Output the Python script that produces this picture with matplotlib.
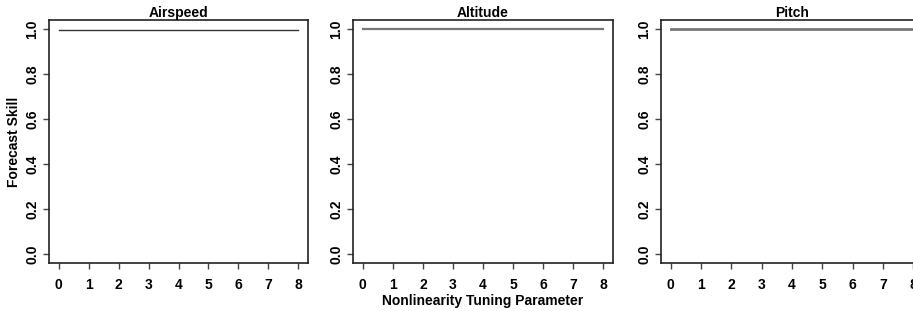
import matplotlib
matplotlib.use("Agg")
import matplotlib.pyplot as plt

# data
tuning = [0, 1, 2, 3, 4, 5, 6, 7, 8]
airspeed = [0.997, 0.997, 0.997, 0.997, 0.997, 0.997, 0.997, 0.997, 0.997]
altitude = [1.0, 1.0, 1.0, 1.0, 1.0, 1.0, 1.0, 1.0, 1.0]
pitch = [1.0, 1.0, 1.0, 1.0, 1.0, 1.0, 1.0, 1.0, 1.0]
titles = ["Airspeed", "Altitude", "Pitch"]
yticks = [0.0, 0.2, 0.4, 0.6, 0.8, 1.0]

plt.rcParams['font.family'] = ['Liberation Sans', 'DejaVu Sans']
plt.rcParams['font.weight'] = 'bold'

fig = plt.figure(figsize=(9.13, 3.11), dpi=100)

lefts = [49 / 913, 353 / 913, 661 / 913]
widths = [259 / 913, 260 / 913, 262 / 913]
series = [airspeed, altitude, pitch]
styles = [("#333333", 1.0), ("#777777", 1.6), ("#777777", 2.0)]

for i in range(3):
    ax = fig.add_axes([lefts[i], 48 / 311, widths[i], 243 / 311])
    col, lw = styles[i]
    ax.plot(tuning, series[i], color=col, lw=lw)
    ax.set_xlim(-0.32, 8.32)
    ax.set_ylim(-0.04, 1.04)
    ax.set_xticks(tuning)
    ax.set_yticks(yticks)
    ax.set_yticklabels(["%.1f" % v for v in yticks], rotation=90, va="center")
    ax.tick_params(direction="out", length=4, width=1, color="#444444",
                   labelsize=10)
    ax.tick_params(axis="x", pad=7)
    ax.tick_params(axis="y", pad=3)
    for s in ax.spines.values():
        s.set_linewidth(1.2)
        s.set_color("#222222")
    ax.set_title(titles[i], fontsize=10, fontweight="bold", pad=2)
    if i == 0:
        ax.set_ylabel("Forecast Skill", fontsize=10, fontweight="bold")
        ax.yaxis.set_label_coords(-0.11, 0.5)
    if i == 1:
        ax.set_xlabel("Nonlinearity Tuning Parameter", fontsize=10,
                      fontweight="bold", labelpad=1)

fig.savefig("out.png", dpi=100)
